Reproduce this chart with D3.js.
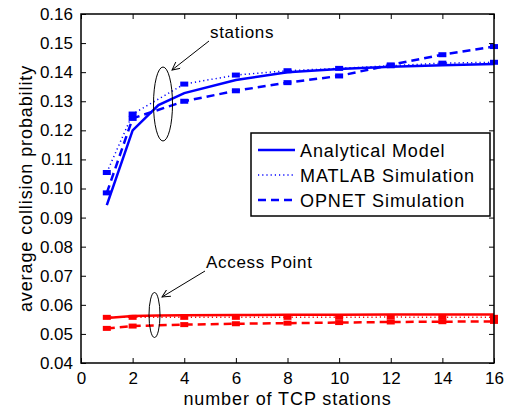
<!DOCTYPE html>
<html><head><meta charset="utf-8">
<script src="https://cdn.jsdelivr.net/npm/d3@7"></script>
<style>body{margin:0;background:#fff}svg{display:block}text{font-family:"Liberation Sans",Arial,Helvetica,sans-serif}</style>
</head><body>
<div id="chart"></div>
<script>
const xTicks = [0,2,4,6,8,10,12,14,16];
const yTicks = [0.04,0.05,0.06,0.07,0.08,0.09,0.10,0.11,0.12,0.13,0.14,0.15,0.16];
const modelX = [1,2,3,4,6,8,10,12,14,16];
const simX = [1,2,4,6,8,10,12,14,16];
const staAnalytical = [0.0943,0.1200,0.1287,0.1328,0.1373,0.1400,0.1411,0.1419,0.1424,0.1428];
const staMatlab = [0.1055,0.1256,0.1359,0.1390,0.1405,0.1413,0.1422,0.1431,0.1434];
const staOpnet = [0.0985,0.1241,0.1300,0.1336,0.1364,0.1387,0.1425,0.1460,0.1488];
const apAnalytical = [0.0555,0.0562,0.0563,0.0564,0.0565,0.0566,0.0566,0.0567,0.0567,0.0567];
const apMatlab = [0.0557,0.0557,0.0557,0.0557,0.0557,0.0557,0.0558,0.0557,0.0557];
const apOpnet = [0.0519,0.0527,0.0532,0.0535,0.0537,0.0539,0.0541,0.0542,0.0543];
const legendLabels = ["Analytical Model","MATLAB Simulation","OPNET Simulation"];
const xLabel = "number of TCP stations";
const yLabel = "average collision probability";

const W=516,H=410;
const m={l:81,r:22,t:14,b:47};
const svg=d3.select("#chart").append("svg").attr("width",W).attr("height",H);
const x=d3.scaleLinear().domain([0,16]).range([m.l,W-m.r]);
const y=d3.scaleLinear().domain([0.04,0.16]).range([H-m.b,m.t]);

const styles=[
  {w:2.5,dash:null},
  {w:1.5,dash:"1.2,3"},
  {w:2.5,dash:"8,5"}
];
const line=d3.line().x(d=>x(d[0])).y(d=>y(d[1]));
function draw(xs,vals,color,st,markers){
  const pts=xs.map((v,i)=>[v,vals[i]]);
  svg.append("path").datum(pts).attr("d",line).attr("fill","none")
    .attr("stroke",color).attr("stroke-width",st.w)
    .attr("stroke-dasharray",st.dash);
  if(markers){
    svg.selectAll(null).data(pts).enter().append("rect")
      .attr("x",d=>x(d[0])-4).attr("y",d=>y(d[1])-2.5)
      .attr("width",8).attr("height",5).attr("fill",color);
  }
}
draw(modelX,staAnalytical,"#0000ff",styles[0],false);
draw(simX,staMatlab,"#0000ff",styles[1],true);
draw(simX,staOpnet,"#0000ff",styles[2],true);
draw(modelX,apAnalytical,"#ff0000",styles[0],false);
draw(simX,apMatlab,"#ff0000",styles[1],true);
draw(simX,apOpnet,"#ff0000",styles[2],true);

// axes box
const g=svg.append("g");
g.append("rect").attr("x",m.l).attr("y",m.t).attr("width",W-m.r-m.l).attr("height",H-m.b-m.t)
  .attr("fill","none").attr("stroke","#000").attr("stroke-width",1.5);
const xa=d3.axisBottom(x).tickValues(xTicks).tickSize(-5).tickPadding(9).tickFormat(d3.format("d"));
const xg=svg.append("g").attr("transform",`translate(0,${H-m.b})`).call(xa);
const xt=svg.append("g").attr("transform",`translate(0,${m.t})`).call(d3.axisTop(x).tickValues(xTicks).tickSize(-5).tickFormat(""));
const ya=d3.axisLeft(y).tickValues(yTicks).tickSize(-5).tickPadding(8).tickFormat(d3.format(".2f"));
const yg=svg.append("g").attr("transform",`translate(${m.l},0)`).call(ya);
const yr=svg.append("g").attr("transform",`translate(${W-m.r},0)`).call(d3.axisRight(y).tickValues(yTicks).tickSize(-5).tickFormat(""));
[xg,xt,yg,yr].forEach(a=>{a.select(".domain").remove();a.selectAll("line").attr("stroke","#000").attr("stroke-width",1);});
xg.selectAll("text").attr("font-size",17).attr("fill","#000");
yg.selectAll("text").attr("font-size",17).attr("fill","#000");

svg.append("text").attr("x",(m.l+W-m.r)/2).attr("y",405).attr("text-anchor","middle")
  .attr("font-size",18).attr("letter-spacing",0.9).text(xLabel);
svg.append("text").attr("transform",`translate(32,${(m.t+H-m.b)/2}) rotate(-90)`).attr("text-anchor","middle")
  .attr("font-size",18).attr("letter-spacing",0.9).text(yLabel);

// legend
const lg=svg.append("g");
lg.append("rect").attr("x",251).attr("y",133).attr("width",239).attr("height",83)
  .attr("fill","#fff").attr("stroke","#000").attr("stroke-width",1.5);
legendLabels.forEach((t,i)=>{
  const yy=150+i*25;
  lg.append("line").attr("x1",258).attr("x2",295).attr("y1",yy).attr("y2",yy)
    .attr("stroke","#0000ff").attr("stroke-width",styles[i].w).attr("stroke-dasharray",styles[i].dash);
  lg.append("text").attr("x",300).attr("y",yy+6.5).attr("font-size",18).attr("letter-spacing",0.9).text(t);
});

// annotations
const defs=svg.append("defs");
defs.append("marker").attr("id","ah").attr("viewBox","0 0 10 10").attr("refX",10).attr("refY",5)
  .attr("markerWidth",12).attr("markerHeight",8).attr("markerUnits","userSpaceOnUse").attr("orient","auto")
  .append("path").attr("d","M0,0 L10,5 L0,10").attr("fill","none").attr("stroke","#000").attr("stroke-width",1.2);
svg.append("ellipse").attr("cx",163).attr("cy",104).attr("rx",9.5).attr("ry",37).attr("fill","none").attr("stroke","#000");
svg.append("line").attr("x1",209).attr("y1",41).attr("x2",172).attr("y2",70).attr("stroke","#000").attr("marker-end","url(#ah)");
svg.append("text").attr("x",210).attr("y",38).attr("font-size",17).attr("letter-spacing",0.7).text("stations");
svg.append("ellipse").attr("cx",154.5).attr("cy",315).attr("rx",5.5).attr("ry",22.5).attr("fill","none").attr("stroke","#000");
svg.append("line").attr("x1",205).attr("y1",271).attr("x2",162).attr("y2",297).attr("stroke","#000").attr("marker-end","url(#ah)");
svg.append("text").attr("x",206).attr("y",268).attr("font-size",17).attr("letter-spacing",0.7).text("Access Point");
</script>
</body></html>
